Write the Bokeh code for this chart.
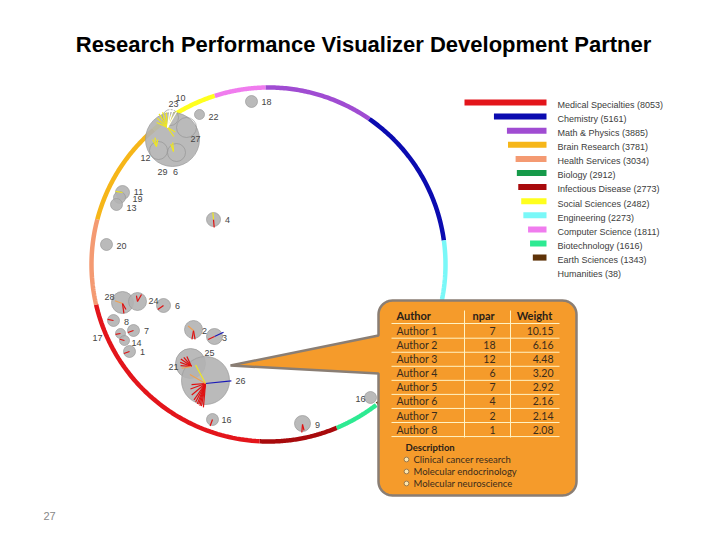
import numpy as np
from bokeh.plotting import figure
from bokeh.models import Range1d, ColumnDataSource
from bokeh.core.properties import value
from bokeh.embed import file_html
from bokeh.resources import INLINE

# ---------------- data ----------------
title_text = "Research Performance Visualizer Development Partner"
page_number = "27"

fields = ["Medical Specialties", "Chemistry", "Math & Physics", "Brain Research",
          "Health Services", "Biology", "Infectious Disease", "Social Sciences",
          "Engineering", "Computer Science", "Biotechnology", "Earth Sciences", "Humanities"]
counts = [8053, 5161, 3885, 3781, 3034, 2912, 2773, 2482, 2273, 1811, 1616, 1343, 38]
field_colors = ["#E3151B", "#0B0BB0", "#A04CD2", "#F6B619", "#F49A72", "#169A4A",
                "#A80A0C", "#FFFF1E", "#7AF8F8", "#F07CEE", "#2DEA92", "#5E3208", "#FFFFFF"]
ring_order = ["Math & Physics", "Chemistry", "Engineering", "Biology", "Earth Sciences",
              "Humanities", "Biotechnology", "Infectious Disease", "Medical Specialties",
              "Health Services", "Brain Research", "Social Sciences", "Computer Science"]

table_headers = ["Author", "npar", "Weight"]
authors = ["Author 1", "Author 2", "Author 3", "Author 4", "Author 5", "Author 6", "Author 7", "Author 8"]
npar = [7, 18, 12, 6, 7, 4, 2, 1]
weight = [10.15, 6.16, 4.48, 3.20, 2.92, 2.16, 2.14, 2.08]
description_title = "Description"
description_items = ["Clinical cancer research", "Molecular endocrinology", "Molecular neuroscience"]

node_x = [172, 199, 251, 122, 119, 116, 213, 106, 122, 137, 163, 113, 133, 120, 124, 129, 193, 214, 190, 205, 212, 302, 370]
node_y = [139, 114, 101, 192, 197, 204, 219, 244, 302, 301, 305, 320, 330, 333, 340, 351, 329, 336, 363, 380, 419, 423, 397]
node_r = [27, 5, 6, 7, 6, 6, 7, 6, 11, 9, 7, 6, 6, 5, 5, 6, 9, 8, 15, 24, 6, 8, 6]

inner_x = [186, 158, 176, 170]
inner_y = [127, 150, 152, 117]
inner_r = [10, 9, 9, 8]

label_text = ["10", "23", "22", "18", "27", "12", "29", "6", "11", "19", "13", "4", "20",
              "28", "24", "6", "8", "7", "17", "14", "1", "2", "3", "25", "21", "26", "16", "9", "16"]
label_x = [180, 173, 213, 266, 195, 145, 162, 175, 138, 137, 131, 227, 121,
           109, 153, 177, 126, 146, 97, 136, 142, 204, 224, 209, 173, 240, 226, 317, 360]
label_y = [97, 103, 116, 101, 138, 157, 171, 171, 191, 198, 207, 219, 245,
           296, 300, 305, 321, 330, 337, 342, 351, 330, 337, 352, 366, 380, 419, 424, 398]

hub_x = [167, 156, 173, 205, 191, 213, 122, 137, 163, 113, 133, 120, 124, 129, 193, 214, 212, 302, 122]
hub_y = [127, 146, 151, 383, 366, 219, 303, 301, 305, 320, 330, 333, 340, 351, 330, 336, 419, 424, 192]
spoke_hub = [0, 0, 0, 0, 0, 0, 0, 0, 0, 0, 0, 0,
             1, 1, 1, 2, 2,
             3, 3, 3, 3, 3, 3, 3, 3, 3, 3, 3, 3, 3,
             4, 4, 4, 4, 4, 4,
             5, 5, 6, 6, 6, 7, 7, 8, 9, 10, 11, 12, 13, 14, 14, 14, 15, 15, 16, 17, 17, 18]
spoke_ang = [95, 108, 122, 138, 155, 62, 78, -30, -55, 82, 72, 60,
             100, 120, 80, 95, 110,
             -95, -100, -104, -108, -112, -118, -125, -140, -160, -175, 6, 118, 150,
             145, 160, 130, 175, 115, 190,
             -85, 95, -82, 160, -60, 60, 100, 215, 170, 200, 190, 165, 200, -80, -100, 140, 25, 205, -110, -95, -75, 170]
spoke_len = [15, 16, 16, 14, 12, 12, 13, 9, 11, 24, 20, 18,
             9, 8, 7, 9, 8,
             24, 23, 23, 22, 22, 21, 20, 18, 16, 14, 26, 21, 18,
             13, 12, 12, 11, 11, 10,
             8, 7, 10, 8, 7, 8, 6, 7, 6, 6, 5, 5, 6, 9, 9, 7, 10, 7, 7, 8, 6, 7]
spoke_kind = ["Y"] * 9 + ["W"] * 3 + ["Y"] * 5 + ["R"] * 10 + ["B", "Y", "O"] + ["R"] * 5 + ["O"] + \
             ["R", "Y", "R", "O", "R", "R", "R", "R", "R", "R", "R", "R", "R", "R", "R", "O", "B", "R", "R", "R", "R", "Y"]
kind_color = {"R": "#E01010", "Y": "#F0E81E", "W": "#FFFFFF", "B": "#1A1AB8", "O": "#F0A050"}

# ---------------- layout constants ----------------
RING_CX, RING_CY, RING_R = 268, 264, 177
RING_START = 91.0

p = figure(width=704, height=524, x_range=Range1d(0, 704), y_range=Range1d(524, 0),
           output_backend="svg", toolbar_location=None, min_border=0)
p.axis.visible = False
p.grid.visible = False
p.outline_line_color = None
p.background_fill_color = "white"

# ---------------- ring ----------------
total = float(sum(counts))
xs, ys, cs = [], [], []
a = RING_START
for name in ring_order:
    i = fields.index(name)
    span = counts[i] / total * 360.0
    t = np.radians(np.linspace(a, a - span, 60))
    xs.append(list(RING_CX + RING_R * np.cos(t)))
    ys.append(list(RING_CY - RING_R * np.sin(t)))
    cs.append(field_colors[i])
    a -= span
p.multi_line(xs=xs, ys=ys, line_color=cs, line_width=4.5)

# ---------------- nodes ----------------
p.circle(x=node_x, y=node_y, radius=node_r, fill_color="#B2B2B2", fill_alpha=0.9,
         line_color="#9A9A9A", line_width=0.7)
p.circle(x=inner_x, y=inner_y, radius=inner_r, fill_color=None, line_color="#959595", line_width=0.7)

sx, sy, sc = [], [], []
for h, ang, ln, k in zip(spoke_hub, spoke_ang, spoke_len, spoke_kind):
    x0, y0 = hub_x[h], hub_y[h]
    r = np.radians(ang)
    sx.append([x0, x0 + ln * np.cos(r)])
    sy.append([y0, y0 - ln * np.sin(r)])
    sc.append(kind_color[k])
p.multi_line(xs=sx, ys=sy, line_color=sc, line_width=1.2)

p.text(x=label_x, y=label_y, text=label_text, text_font=value("Liberation Sans"),
       text_font_size="9px", text_color="#444444", text_align="center", text_baseline="middle")

# ---------------- callout ----------------
BX0, BX1, BY0, BY1, BR = 378, 576, 300, 495, 14
TIP_X, TIP_Y, NOTCH_TOP, NOTCH_BOT = 230, 365, 335, 373
px, py = [], []
for (ccx, ccy, t0, t1) in [(BX0 + BR, BY0 + BR, 180, 270), (BX1 - BR, BY0 + BR, 270, 360),
                           (BX1 - BR, BY1 - BR, 0, 90), (BX0 + BR, BY1 - BR, 90, 180)]:
    t = np.radians(np.linspace(t0, t1, 12))
    px += list(ccx + BR * np.cos(t))
    py += list(ccy + BR * np.sin(t))
px += [BX0, TIP_X, BX0]
py += [NOTCH_BOT, TIP_Y, NOTCH_TOP]
p.patch(x=px, y=py, fill_color="#F59B2B", line_color="#8A7E74", line_width=2.5)

# table grid
row_y = [330.7 + 14.05 * i for i in range(len(authors))]
hl_y = [323] + [ry + 7 for ry in row_y]
p.multi_line(xs=[[391, 559]] * len(hl_y), ys=[[hy, hy] for hy in hl_y], line_color="#FFF3C4", line_width=1)
p.multi_line(xs=[[464, 464], [510, 510]], ys=[[310, 437], [310, 437]], line_color="#FFF3C4", line_width=1)

tf = value("Lato")
p.text(x=[396], y=[315], text=[table_headers[0]], text_font=tf, text_font_style="bold",
       text_font_size="11px", text_color="#2A2118", text_align="left", text_baseline="middle")
p.text(x=[483, 534], y=[315, 315], text=table_headers[1:], text_font=tf, text_font_style="bold",
       text_font_size="11px", text_color="#2A2118", text_align="center", text_baseline="middle")
p.text(x=[396] * len(authors), y=row_y, text=authors, text_font=tf, text_font_size="10.5px",
       text_color="#3A2C1C", text_align="left", text_baseline="middle")
p.text(x=[495] * len(npar), y=row_y, text=[str(v) for v in npar], text_font=tf, text_font_size="10.5px",
       text_color="#3A2C1C", text_align="right", text_baseline="middle")
p.text(x=[553] * len(weight), y=row_y, text=["%.2f" % v for v in weight], text_font=tf,
       text_font_size="10.5px", text_color="#3A2C1C", text_align="right", text_baseline="middle")

p.text(x=[405], y=[447], text=[description_title], text_font=tf, text_font_style="bold",
       text_font_size="9.5px", text_color="#2A2118", text_align="left", text_baseline="middle")
desc_y = [459 + 12 * i for i in range(len(description_items))]
p.circle(x=[406] * len(desc_y), y=desc_y, radius=2.4, fill_color="#FBE6B0",
         line_color="#9A7A50", line_width=1)
p.text(x=[413] * len(desc_y), y=desc_y, text=description_items, text_font=tf,
       text_font_size="9.5px", text_color="#3A2C1C", text_align="left", text_baseline="middle")

# ---------------- legend ----------------
LEG_RIGHT, LEG_TOP, LEG_STEP = 546, 102, 14.1
scale = 82.0 / max(counts)
leg_y = [LEG_TOP + LEG_STEP * i for i in range(len(fields))]
leg_src = ColumnDataSource(dict(y=leg_y, left=[LEG_RIGHT - c * scale for c in counts],
                                right=[LEG_RIGHT] * len(counts), color=field_colors))
p.hbar(y="y", left="left", right="right", height=6, fill_color="color", line_color=None, source=leg_src)
p.text(x=[557] * len(fields), y=[v + 2.3 for v in leg_y],
       text=["%s (%d)" % (f, c) for f, c in zip(fields, counts)],
       text_font=value("Liberation Sans"), text_font_size="9px", text_color="#3C3C3C",
       text_align="left", text_baseline="middle")

# ---------------- title & page number ----------------
p.text(x=[363], y=[44], text=[title_text], text_font=value("Liberation Sans"), text_font_style="bold",
       text_font_size="22px", text_color="#000000", text_align="center", text_baseline="middle")
p.text(x=[49], y=[515], text=[page_number], text_font=value("Liberation Sans"),
       text_font_size="11px", text_color="#888888", text_align="center", text_baseline="middle")

open("out.html", "w").write(file_html(p, INLINE))
